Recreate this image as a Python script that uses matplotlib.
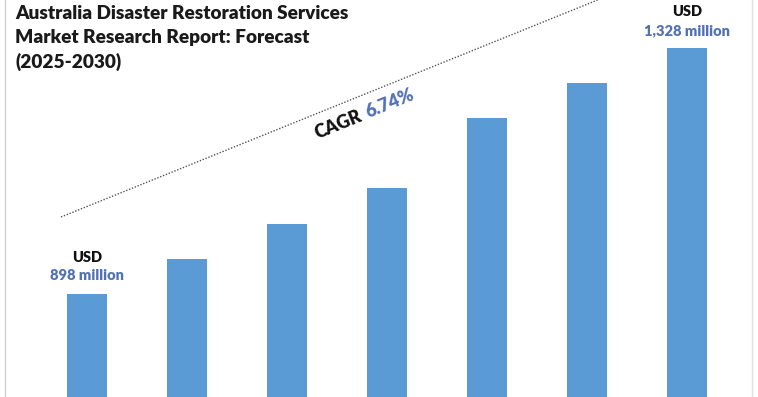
import matplotlib
matplotlib.use("Agg")
import matplotlib.pyplot as plt
from matplotlib.lines import Line2D
import math

years = ["2024", "2025", "2026", "2027", "2028", "2029", "2030"]
values = [898, 959, 1020, 1083, 1206, 1267, 1328]
title_lines = ["Australia Disaster Restoration Services",
               "Market Research Report: Forecast",
               "(2025-2030)"]
cagr_label = "CAGR"
cagr_value = "6.74%"
first_label = ["USD", "898 million"]
last_label = ["USD", "1,328 million"]

BAR = "#5b9bd5"
BLUE_TXT = "#5272b4"
FONT = ['Lato', 'DejaVu Sans']
WEIGHT = 800

plt.rcParams['font.family'] = FONT

W, H = 758, 397
fig = plt.figure(figsize=(W/100, H/100), dpi=100)
ax = fig.add_axes([0, 0, 1, 1])
x = list(range(len(values)))
ax.bar(x, values, width=0.4, color=BAR, zorder=2)
ax.set_xlim(-0.87, 6.71)
ax.set_ylim(717, 1412)
ax.axis("off")

# frame lines
fig.add_artist(Line2D([5/W, 5/W], [0, 1], transform=fig.transFigure, color="#d0d0d0", lw=1))
fig.add_artist(Line2D([752/W, 752/W], [0, 1], transform=fig.transFigure, color="#e0e0e0", lw=1))

# title
for i, line in enumerate(title_lines):
    fig.text(15/W, 1 - (19 + 24.5*i)/H, line, fontsize=13.7, fontweight=WEIGHT,
             color="#1a1a1a", ha="left", va="baseline")

# CAGR dotted line
ax.plot([61/W, 600/W], [1 - 217/H, 1 + 1/H], transform=ax.transAxes,
        color="#555555", lw=1.0, ls=(0, (1, 1.2)), clip_on=False, zorder=3)
ang = 22
dx, dy = math.cos(math.radians(ang)), math.sin(math.radians(ang))
px, py = 366, 119
fig.text((px - 3*dx)/W, 1 - (py + 3*dy)/H, cagr_label, fontsize=13, fontweight=WEIGHT,
         color="#111111", rotation=ang, ha="right", va="baseline", rotation_mode="anchor")
fig.text((px + 3*dx)/W, 1 - (py - 3*dy)/H, cagr_value, fontsize=13, fontweight=WEIGHT,
         color=BLUE_TXT, rotation=ang, ha="left", va="baseline", rotation_mode="anchor")

# annotations
for idx, lab in ((0, first_label), (len(values) - 1, last_label)):
    ax.annotate(lab[0], (x[idx], values[idx]), xytext=(0, 23), textcoords="offset points",
                ha="center", va="baseline", fontsize=10.5, fontweight=WEIGHT, color="#111111",
                annotation_clip=False)
    ax.annotate(lab[1], (x[idx], values[idx]), xytext=(0, 9.5), textcoords="offset points",
                ha="center", va="baseline", fontsize=10.5, fontweight=WEIGHT, color=BLUE_TXT,
                annotation_clip=False)

fig.savefig("out.png", dpi=100)
